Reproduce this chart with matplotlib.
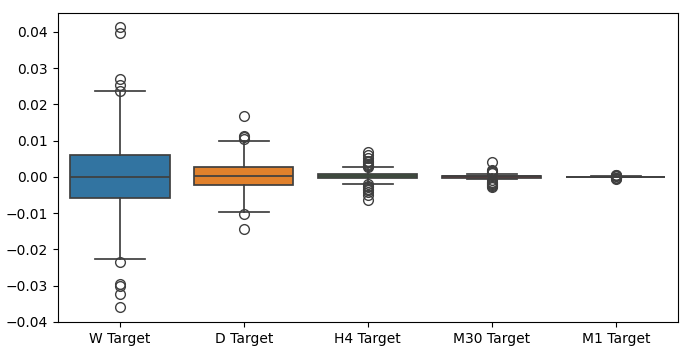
import matplotlib
matplotlib.use("Agg")
import matplotlib.pyplot as plt

# values
labels = ["W Target", "D Target", "H4 Target", "M30 Target", "M1 Target"]
q1 = [-0.0057, -0.0023, -0.0004, -0.0002, -0.00006]
med = [-0.0001, 0.0002, 0.0001, 0.0001, 0.0]
q3 = [0.0059, 0.0027, 0.0007, 0.0003, 0.00006]
whislo = [-0.0227, -0.0098, -0.0019, -0.0007, -0.00015]
whishi = [0.0236, 0.0099, 0.0027, 0.0009, 0.00015]
fliers = [
    [0.0415, 0.0397, 0.0270, 0.0253, 0.0236, -0.0234, -0.0296, -0.0301, -0.0324, -0.0358],
    [0.0168, 0.0113, 0.0110, 0.0105, -0.0103, -0.0144],
    [0.0069, 0.0060, 0.0052, 0.0045, 0.0040, 0.0036, 0.0033, 0.0030, 0.0028,
     -0.0021, -0.0025, -0.0029, -0.0033, -0.0037, -0.0042, -0.0050, -0.0064],
    [0.0042, 0.0019, 0.0016, 0.0013, 0.0011, -0.0010, -0.0013, -0.0016, -0.0019,
     -0.0022, -0.0025, -0.0028],
    [0.0006, 0.0004, 0.0003, 0.0002, -0.0002, -0.0003, -0.0004, -0.0005],
]
colors = ["#3274a1", "#e1812c", "#3a923a", "#c03d3e", "#9372b2"]

stats = []
for i in range(len(labels)):
    stats.append(dict(label=labels[i], q1=q1[i], med=med[i], q3=q3[i],
                      whislo=whislo[i], whishi=whishi[i], fliers=fliers[i]))

line = "#3f3f3f"
fig, ax = plt.subplots(figsize=(6.86, 3.54), dpi=100)
fig.subplots_adjust(left=0.0845, right=0.988, bottom=0.091, top=0.963)

bp = ax.bxp(stats, positions=range(len(labels)), widths=0.8, patch_artist=True,
            capwidths=0.4,
            boxprops=dict(edgecolor=line, linewidth=1.25),
            medianprops=dict(color=line, linewidth=1.25),
            whiskerprops=dict(color=line, linewidth=1.25),
            capprops=dict(color=line, linewidth=1.25),
            flierprops=dict(marker="o", markerfacecolor="none",
                            markeredgecolor=line, markersize=7, markeredgewidth=1.0))
for patch, c in zip(bp["boxes"], colors):
    patch.set_facecolor(c)

ax.set_xlim(-0.5, len(labels) - 0.5)
ax.set_ylim(-0.0400, 0.0452)
ax.set_xticks(range(len(labels)))
ax.set_xticklabels(labels)

fig.savefig("out.png", dpi=100)
